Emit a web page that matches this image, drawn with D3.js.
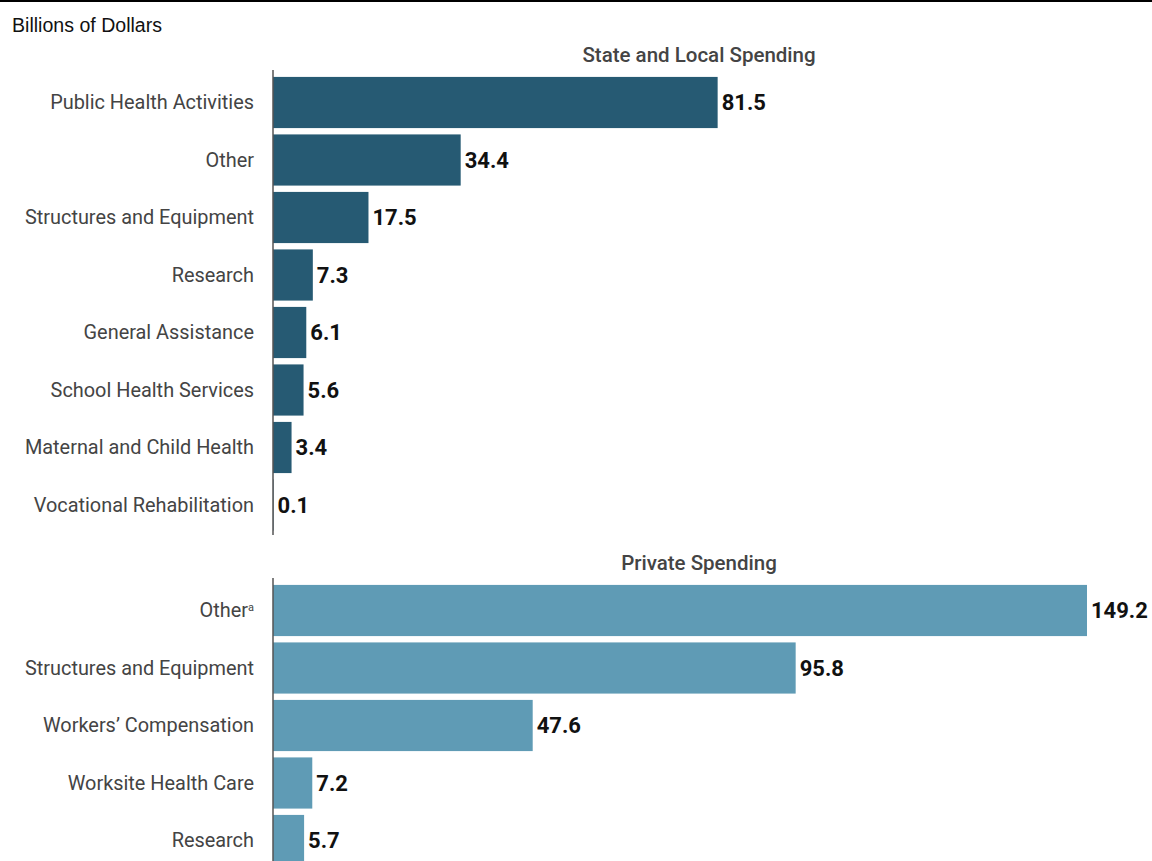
<!DOCTYPE html>
<html><head><meta charset="utf-8">
<script src="https://cdn.jsdelivr.net/npm/d3@7"></script>
<style>body{margin:0;background:#fff}svg{display:block}</style>
</head><body>
<script>
const stateCategories = ["Public Health Activities","Other","Structures and Equipment","Research","General Assistance","School Health Services","Maternal and Child Health","Vocational Rehabilitation"];
const stateValues = [81.5,34.4,17.5,7.3,6.1,5.6,3.4,0.1];
const privateCategories = ["Other","Structures and Equipment","Workers\u2019 Compensation","Worksite Health Care","Research"];
const privateValues = [149.2,95.8,47.6,7.2,5.7];
const unitLabel = "Billions of Dollars";
const panelTitles = ["State and Local Spending","Private Spending"];

const W = 1152, H = 861;
const svg = d3.select("body").append("svg").attr("width", W).attr("height", H);
const labelFont = "Roboto, 'Open Sans', sans-serif";

svg.append("rect").attr("x",0).attr("y",0).attr("width",W).attr("height",2).attr("fill","#000");
svg.append("text").attr("x",12).attr("y",32).text(unitLabel)
  .attr("font-family","'Liberation Sans Narrow', 'Liberation Sans', Arial, sans-serif")
  .attr("font-size",20).attr("fill","#111").attr("textLength",150).attr("lengthAdjust","spacingAndGlyphs");

const x0 = 273;
const x = d3.scaleLinear().domain([0,149.2]).range([x0, 1087]);
const step = 57.5;

function panel(cats, vals, title, top, color, axisTop, axisBottom, titleY, supIndex) {
  const y = d3.scaleBand().domain(cats).range([top, top + step*cats.length]).paddingInner(0.11).paddingOuter(0.055);
  const g = svg.append("g");
  g.append("text").attr("x",699).attr("y",titleY).attr("text-anchor","middle").text(title)
    .attr("font-family",labelFont).attr("font-weight",500).attr("font-size",20.5).attr("fill","#444");
  g.selectAll("rect.bar").data(cats).join("rect").attr("class","bar")
    .attr("x", x0).attr("y", d => y(d)).attr("height", y.bandwidth())
    .attr("width", (d,i) => Math.max(0, x(vals[i]) - x0)).attr("fill", color);
  g.append("line").attr("x1",x0).attr("x2",x0).attr("y1",axisTop).attr("y2",axisBottom)
    .attr("stroke","#555").attr("stroke-width",1.5);
  const lab = g.selectAll("text.cat").data(cats).join("text").attr("class","cat")
    .attr("x", 254).attr("y", d => y(d) + y.bandwidth()/2).attr("dy","0.35em")
    .attr("text-anchor","end").attr("font-family",labelFont).attr("font-size",19.9).attr("fill","#444");
  lab.each(function(d,i){
    const t = d3.select(this);
    t.append("tspan").text(d);
    if (i === supIndex) t.append("tspan").text("a").attr("font-size",11).attr("dy","-0.6em");
  });
  g.selectAll("text.val").data(vals).join("text").attr("class","val")
    .attr("x", d => x(d) + 4).attr("y", (d,i) => y(cats[i]) + y.bandwidth()/2).attr("dy","0.36em")
    .attr("font-family",labelFont).attr("font-weight",700).attr("font-size",22).attr("fill","#111")
    .text(d => d3.format(".1f")(d));
}
panel(stateCategories, stateValues, panelTitles[0], 73.75, "#265a73", 70, 535, 62, -1);
panel(privateCategories, privateValues, panelTitles[1], 581.75, "#5f9bb5", 578, 861, 570, 0);
</script>
</body></html>
